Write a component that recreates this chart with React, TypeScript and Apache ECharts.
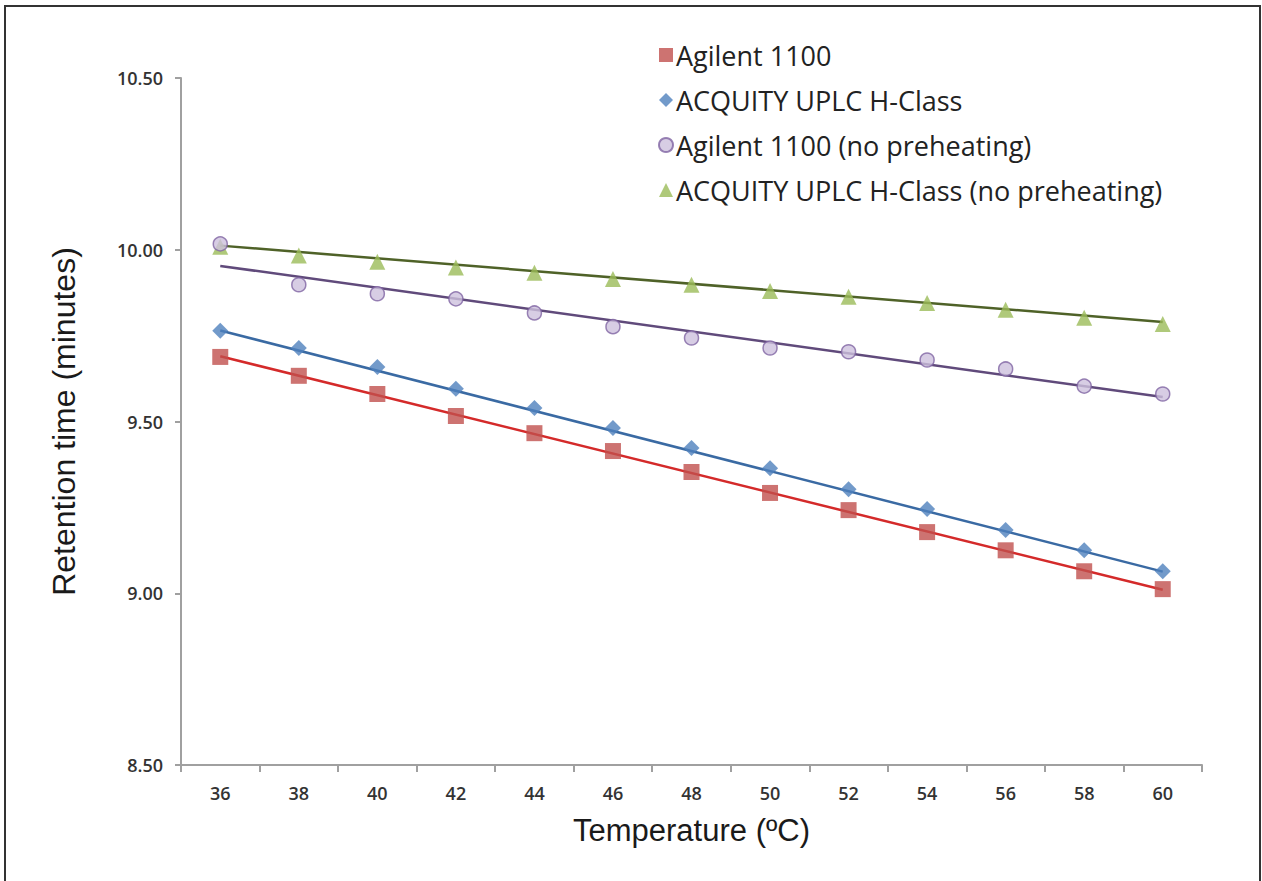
import React, { useEffect, useRef } from "react";
import * as echarts from "echarts";

const temperatures = ["36", "38", "40", "42", "44", "46", "48", "50", "52", "54", "56", "58", "60"];

const agilent = [9.688, 9.633, 9.58, 9.516, 9.466, 9.414, 9.353, 9.292, 9.242, 9.178, 9.125, 9.064, 9.012];
const acquity = [9.764, 9.714, 9.659, 9.595, 9.539, 9.481, 9.423, 9.364, 9.303, 9.245, 9.184, 9.125, 9.064];
const agilentNoPre = [10.017, 9.898, 9.872, 9.857, 9.816, 9.776, 9.743, 9.714, 9.703, 9.679, 9.653, 9.603, 9.58];
const acquityNoPre = [10.009, 9.983, 9.965, 9.948, 9.933, 9.915, 9.898, 9.88, 9.863, 9.845, 9.825, 9.802, 9.784];

// Linear trendline endpoints (at 36 and 60 °C)
const agilentTrend = [9.69, 9.01];
const acquityTrend = [9.765, 9.063];
const agilentNoPreTrend = [9.953, 9.571];
const acquityNoPreTrend = [10.012, 9.79];

const yTicks = { min: 8.5, max: 10.5, interval: 0.5 };

const seriesNames = [
  "Agilent 1100",
  "ACQUITY UPLC H-Class",
  "Agilent 1100 (no preheating)",
  "ACQUITY UPLC H-Class (no preheating)",
];

function trendData(ends: number[]) {
  return temperatures.map((_, i) =>
    i === 0 ? ends[0] : i === temperatures.length - 1 ? ends[1] : null
  );
}

export default function App() {
  const ref = useRef<HTMLDivElement>(null);

  useEffect(() => {
    if (!ref.current) return;
    const chart = echarts.init(ref.current, undefined, { renderer: "svg" });
    const trendStyle = (color: string) => ({
      type: "line" as const,
      showSymbol: false,
      symbol: "none",
      connectNulls: true,
      lineStyle: { color, width: 2.5 },
      z: 1,
      silent: true,
    });
    chart.setOption({
      animation: false,
      backgroundColor: "#ffffff",
      textStyle: { fontFamily: "'Open Sans', 'Noto Sans', sans-serif" },
      grid: { left: 181, right: 60, top: 78, bottom: 116, containLabel: false },
      legend: {
        orient: "vertical",
        left: 653,
        top: 35,
        itemWidth: 14,
        itemHeight: 14,
        itemGap: 15,
        textStyle: {
          fontFamily: "'Open Sans', 'Noto Sans', sans-serif",
          fontSize: 27,
          color: "#222",
          lineHeight: 30,
          padding: [0, 0, 0, -2],
        },
        data: [
          { name: seriesNames[0], icon: "rect" },
          { name: seriesNames[1], icon: "diamond" },
          { name: seriesNames[2], icon: "circle" },
          { name: seriesNames[3], icon: "triangle" },
        ],
      },
      graphic: [
        {
          type: "rect",
          shape: { x: 5, y: 6, width: 1255, height: 900 },
          style: { fill: "none", stroke: "#333", lineWidth: 2 },
          silent: true,
        },
      ],
      xAxis: {
        type: "category",
        data: temperatures,
        boundaryGap: true,
        name: "Temperature (ºC)",
        nameLocation: "middle",
        nameGap: 50,
        nameTextStyle: {
          fontFamily: "'Liberation Sans', Arial, sans-serif",
          fontSize: 31,
          color: "#1a1a1a",
        },
        axisLine: { lineStyle: { color: "#a0a0a0", width: 2 } },
        axisTick: { show: true, inside: false, length: 7, lineStyle: { color: "#a0a0a0", width: 2 } },
        axisLabel: { margin: 19, fontSize: 18, color: "#333", fontWeight: 600 },
        splitLine: { show: false },
      },
      yAxis: {
        type: "value",
        min: yTicks.min,
        max: yTicks.max,
        interval: yTicks.interval,
        name: "Retention time (minutes)",
        nameLocation: "middle",
        nameGap: 101,
        nameRotate: 90,
        nameTextStyle: {
          fontFamily: "'Liberation Sans', Arial, sans-serif",
          fontSize: 32,
          color: "#1a1a1a",
        },
        axisLine: { show: true, lineStyle: { color: "#a0a0a0", width: 2 } },
        axisTick: { show: true, length: 6, lineStyle: { color: "#a0a0a0", width: 2 } },
        axisLabel: {
          margin: 18,
          fontSize: 18,
          color: "#333",
          fontWeight: 600,
          formatter: (v: number) => v.toFixed(2),
        },
        splitLine: { show: false },
      },
      series: [
        { name: "trend-acquityNoPre", data: trendData(acquityNoPreTrend), ...trendStyle("#4f6228") },
        { name: "trend-agilentNoPre", data: trendData(agilentNoPreTrend), ...trendStyle("#604a7b") },
        { name: "trend-acquity", data: trendData(acquityTrend), ...trendStyle("#3a6aa3") },
        { name: "trend-agilent", data: trendData(agilentTrend), ...trendStyle("#d42a2a") },
        {
          name: seriesNames[3],
          type: "scatter",
          data: acquityNoPre,
          symbol: "triangle",
          symbolSize: 16,
          itemStyle: { color: "#9bbb59" },
          z: 3,
        },
        {
          name: seriesNames[2],
          type: "scatter",
          data: agilentNoPre,
          symbol: "circle",
          symbolSize: 14,
          itemStyle: { color: "#cdc1dd", borderColor: "#8064a2", borderWidth: 1.5 },
          z: 3,
        },
        {
          name: seriesNames[1],
          type: "scatter",
          data: acquity,
          symbol: "diamond",
          symbolSize: 16,
          itemStyle: { color: "#4f81bd" },
          z: 3,
        },
        {
          name: seriesNames[0],
          type: "scatter",
          data: agilent,
          symbol: "rect",
          symbolSize: 16,
          itemStyle: { color: "#c0504d" },
          z: 3,
        },
      ],
    });
    return () => chart.dispose();
  }, []);

  return (
    <div
      ref={ref}
      style={{ position: "absolute", left: 0, top: 0, width: 1262, height: 881 }}
    />
  );
}
